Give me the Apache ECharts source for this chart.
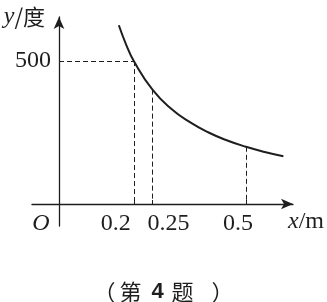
<!DOCTYPE html>
<html>
<head>
<meta charset="utf-8">
<script src="https://cdn.jsdelivr.net/npm/echarts@6/dist/echarts.min.js"></script>
<style>
  html, body { margin: 0; padding: 0; background: #fff; }
  #main { width: 327px; height: 302px; }
</style>
</head>
<body>
<div id="main"></div>
<script>
// curve y = k / x
var curveX = [0.16, 0.18, 0.2, 0.25, 0.3, 0.35, 0.4, 0.45, 0.5, 0.55, 0.6]
var curveY = [625, 556, 500, 400, 333, 286, 250, 222, 200, 182, 167]

// dashed guides
var dropX = [0.2, 0.25, 0.5]
var dropY = [500, 400, 200]

// tick labels
var xTickValues = [0, 0.2, 0.25, 0.5]
var xTickLabels = ['O', '0.2', '0.25', '0.5']
var yTickValues = [500]
var yTickLabels = ['500']

var ink = '#1e1e1e'
var serif = 'Liberation Serif'
var cjk = 'Noto Sans CJK SC'

var chart = echarts.init(document.getElementById('main'))

var guides = []
dropX.forEach(function (x, i) {
  guides.push([{ coord: [x, dropY[i]] }, { coord: [x, 0] }])
})
guides.push([{ coord: [0, dropY[0]] }, { coord: [dropX[0], dropY[0]] }])

var richX = ['o', 'a', 'b', 'c']

chart.setOption({
  backgroundColor: '#fff',
  animation: false,
  title: {
    text: '{p|（}{n|第}{b|4}{m|题}{q|）}',
    left: 'center',
    top: 276,
    textStyle: {
      rich: {
        p: { fontSize: 22, fontFamily: cjk, fontWeight: 'normal', color: ink },
        n: { fontSize: 22, fontFamily: cjk, fontWeight: 'normal', color: ink, padding: [0, 0, 0, 4] },
        b: { fontSize: 22, fontWeight: 'bold', fontFamily: 'Liberation Sans', color: ink, padding: [0, 0, 0, 10] },
        m: { fontSize: 22, fontFamily: cjk, fontWeight: 'normal', color: ink, padding: [0, 0, 0, 8] },
        q: { fontSize: 22, fontFamily: cjk, fontWeight: 'normal', color: ink, padding: [0, 0, 0, 18] }
      }
    }
  },
  grid: { left: 32, right: 34, top: 17, bottom: 76, outerBoundsMode: 'none', containLabel: false },
  xAxis: {
    type: 'value',
    min: -0.0722,
    max: 0.6257,
    name: '{i|x}{n|/m}',
    nameLocation: 'end',
    nameGap: -5,
    nameTextStyle: {
      align: 'left',
      verticalAlign: 'middle',
      padding: [36, 0, 0, 0],
      rich: {
        i: { fontSize: 24, fontFamily: serif, fontStyle: 'italic', color: ink },
        n: { fontSize: 24, fontFamily: serif, color: ink }
      }
    },
    axisLine: {
      onZero: true,
      symbol: ['none', 'arrow'],
      symbolSize: [8, 12],
      lineStyle: { color: ink, width: 1.3 }
    },
    axisTick: { customValues: dropX, inside: true, length: 4, lineStyle: { color: ink } },
    axisLabel: {
      customValues: xTickValues,
      // labels sit at the grid edge, pull them back up to the zero line
      margin: -14,
      fontSize: 24,
      fontFamily: serif,
      color: ink,
      formatter: function (v) {
        var i = xTickValues.indexOf(v)
        return '{' + richX[i] + '|' + xTickLabels[i] + '}'
      },
      rich: {
        o: { fontSize: 24, fontFamily: serif, fontStyle: 'italic', color: ink, padding: [0, 36, 4, 0] },
        a: { fontSize: 24, fontFamily: serif, color: ink, padding: [0, 36, 0, 0] },
        b: { fontSize: 24, fontFamily: serif, color: ink, padding: [0, 0, 0, 32] },
        c: { fontSize: 24, fontFamily: serif, color: ink, padding: [0, 16, 0, 0] }
      }
    },
    splitLine: { show: false }
  },
  yAxis: {
    type: 'value',
    min: -77,
    max: 654,
    name: '{i|y}{n|/度}',
    nameLocation: 'end',
    nameGap: 0,
    nameTextStyle: {
      align: 'right',
      verticalAlign: 'middle',
      padding: [0, 14, 0, 0],
      rich: {
        i: { fontSize: 24, fontFamily: serif, fontStyle: 'italic', color: ink },
        n: { fontSize: 22, fontFamily: cjk, color: ink }
      }
    },
    axisLine: {
      onZero: true,
      symbol: ['none', 'arrow'],
      symbolSize: [8, 12],
      lineStyle: { color: ink, width: 1.3 }
    },
    axisTick: { customValues: yTickValues, inside: true, length: 4, lineStyle: { color: ink } },
    axisLabel: {
      customValues: yTickValues,
      margin: -19,
      fontSize: 24,
      fontFamily: serif,
      color: ink,
      formatter: function (v) {
        return yTickLabels[yTickValues.indexOf(v)]
      }
    },
    splitLine: { show: false }
  },
  series: [{
    type: 'line',
    data: curveX.map(function (x, i) { return [x, curveY[i]] }),
    smooth: true,
    showSymbol: false,
    lineStyle: { color: ink, width: 2 },
    markLine: {
      silent: true,
      symbol: ['none', 'none'],
      label: { show: false },
      lineStyle: { color: ink, width: 1, type: [5, 3] },
      data: guides
    }
  }]
})
</script>
</body>
</html>
